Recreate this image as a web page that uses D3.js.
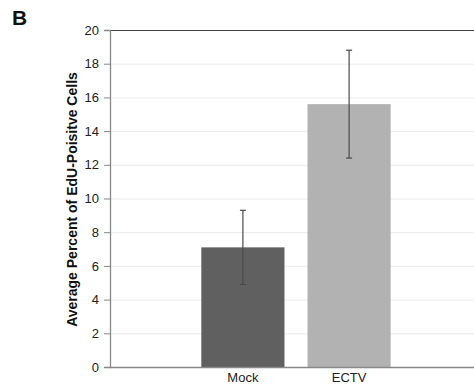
<!DOCTYPE html>
<html>
<head>
<meta charset="utf-8" />
<title>EdU-positive cells</title>
<style>
  body { margin: 0; background: #fff; }
  svg { font-family: "Liberation Sans", Arial, sans-serif; }
</style>
</head>
<body>
<div id="chart"></div>
<script src="https://cdnjs.cloudflare.com/ajax/libs/d3/7.8.5/d3.min.js"></script>
<script>
  var categories = ["Mock", "ECTV"];
  var means = [7.1, 15.6];
  var errors = [2.2, 3.2];
  var barColors = ["#606060", "#b2b2b2"];
  var yTicks = [0, 2, 4, 6, 8, 10, 12, 14, 16, 18, 20];

  var data = categories.map(function (c, i) {
    return { name: c, value: means[i], err: errors[i], color: barColors[i] };
  });

  var W = 474, H = 388;
  var plotLeft = 110, plotRight = 482, plotTop = 30, plotBottom = 367;

  var svg = d3.select("#chart").append("svg")
      .attr("width", W)
      .attr("height", H);

  var x = d3.scaleBand()
      .domain(categories)
      .range([plotLeft, plotRight])
      .paddingInner(0.217)
      .paddingOuter(0.86);

  var y = d3.scaleLinear()
      .domain([0, 20])
      .range([plotBottom, plotTop]);

  // gridlines
  svg.append("g")
    .selectAll("line")
    .data(yTicks.filter(function (d) { return d > 0 && d < 20; }))
    .join("line")
      .attr("x1", plotLeft).attr("x2", W)
      .attr("y1", function (d) { return y(d) + 0.5; })
      .attr("y2", function (d) { return y(d) + 0.5; })
      .attr("stroke", "#ebebeb")
      .attr("stroke-width", 1);

  // top border
  svg.append("line")
      .attr("x1", plotLeft).attr("x2", W)
      .attr("y1", y(20) + 0.5).attr("y2", y(20) + 0.5)
      .attr("stroke", "#444").attr("stroke-width", 1.2);

  // bars
  svg.append("g")
    .selectAll("rect")
    .data(data)
    .join("rect")
      .attr("x", function (d) { return x(d.name); })
      .attr("y", function (d) { return y(d.value); })
      .attr("width", x.bandwidth())
      .attr("height", function (d) { return y(0) - y(d.value); })
      .attr("fill", function (d) { return d.color; });

  // error bars
  var eb = svg.append("g")
      .attr("stroke", "#4a4a4a")
      .attr("stroke-width", 1.2);
  data.forEach(function (d) {
    var cx = x(d.name) + x.bandwidth() / 2;
    eb.append("line")
      .attr("x1", cx).attr("x2", cx)
      .attr("y1", y(d.value + d.err)).attr("y2", y(d.value - d.err));
    [d.value + d.err, d.value - d.err].forEach(function (v) {
      eb.append("line")
        .attr("x1", cx - 3).attr("x2", cx + 3)
        .attr("y1", y(v)).attr("y2", y(v));
    });
  });

  // y axis
  var yAxis = svg.append("g")
      .attr("transform", "translate(" + plotLeft + ",0)")
      .call(d3.axisLeft(y).tickValues(yTicks).tickSize(6).tickPadding(5));
  yAxis.select(".domain").attr("stroke", "#888").attr("stroke-width", 1.3);
  yAxis.selectAll(".tick line").attr("stroke", "#888");
  yAxis.selectAll(".tick text")
      .attr("fill", "#222")
      .style("font-size", "13px");

  // x axis
  var xAxis = svg.append("g")
      .attr("transform", "translate(0," + plotBottom + ")")
      .call(d3.axisBottom(x).tickSize(0).tickPadding(6));
  xAxis.select(".domain").attr("stroke", "#888").attr("stroke-width", 1.3);
  xAxis.selectAll(".tick text")
      .attr("fill", "#222")
      .style("font-size", "13px");

  // y title
  svg.append("text")
      .attr("transform", "translate(77," + ((plotTop + plotBottom) / 2 + 1) + ") rotate(-90)")
      .attr("text-anchor", "middle")
      .style("font-size", "14px")
      .style("font-weight", "bold")
      .attr("fill", "#111")
      .text("Average Percent of EdU-Poisitve Cells");

  // panel letter
  svg.append("text")
      .attr("x", 12).attr("y", 25)
      .style("font-size", "21px")
      .style("font-weight", "bold")
      .attr("fill", "#111")
      .text("B");
</script>
</body>
</html>
